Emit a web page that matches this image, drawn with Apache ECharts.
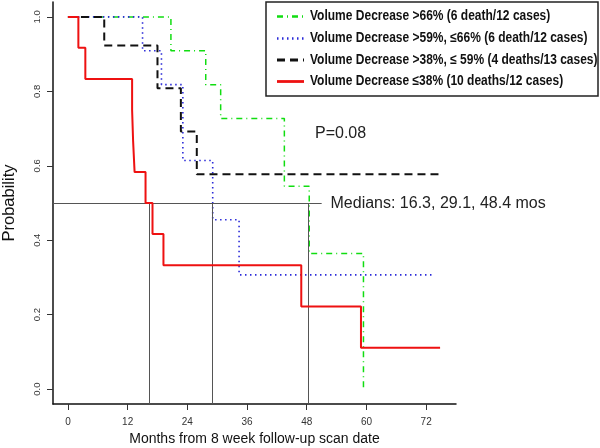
<!DOCTYPE html>
<html><head><meta charset="utf-8">
<script src="https://cdn.jsdelivr.net/npm/echarts@6/dist/echarts.min.js"></script>
<style>html,body{margin:0;padding:0;background:#fff}#c{width:600px;height:448px}</style>
</head><body><div id="c"></div>
<script>
// Kaplan-Meier step data (months, survival probability)
var greenT = [0, 20.7, 27.7, 30.7, 43.5, 48.5, 59.4];
var greenS = [1, 0.909, 0.818, 0.727, 0.545, 0.364, 0];
var blueT  = [0, 15.0, 18.8, 23.1, 29.1, 34.4, 73.5];
var blueS  = [1, 0.909, 0.818, 0.614, 0.455, 0.307, 0.307];
var blackT = [0, 7.3, 18.0, 22.7, 25.9, 74.8];
var blackS = [1, 0.923, 0.808, 0.692, 0.577, 0.577];
var redT   = [0, 2.1, 3.5, 12.9, 13.1, 13.4, 15.6, 17.0, 19.2, 46.9, 58.9, 74.8];
var redS   = [1, 0.917, 0.833, 0.75, 0.667, 0.583, 0.5, 0.417, 0.333, 0.222, 0.111, 0.111];
var medians = [16.3, 29.1, 48.4];
var medianLevel = 0.5;
var medianLineEnd = 51;
var xTicks = [0, 12, 24, 36, 48, 60, 72];
var yTicks = [0, 0.2, 0.4, 0.6, 0.8, 1.0];
var legendNames = [
  'Volume Decrease >66% (6 death/12 cases)',
  'Volume Decrease >59%, \u226466% (6 death/12 cases)',
  'Volume Decrease >38%, \u2264 59% (4 deaths/13 cases)',
  'Volume Decrease \u226438% (10 deaths/12 cases)'
];
var pText = 'P=0.08';
var medText = 'Medians: 16.3, 29.1, 48.4 mos';

function pairs(t, s) { return t.map(function (v, i) { return [v, s[i]]; }); }

var styles = [
  {color: '#11dd11', width: 1.5, type: [6, 4, 1, 4]},
  {color: '#2a2ad8', width: 1.6, type: [1.5, 3.5]},
  {color: '#111111', width: 2, type: [8, 5]},
  {color: '#ee1111', width: 2, type: 'solid'}
];
var dataSets = [pairs(greenT, greenS), pairs(blueT, blueS), pairs(blackT, blackS), pairs(redT, redS)];

var font = "'Liberation Sans', Arial, sans-serif";
var series = [];
var medData = [[{coord: [-3, medianLevel]}, {coord: [medianLineEnd, medianLevel]}]];
medians.forEach(function (m) { medData.push([{coord: [m, medianLevel]}, {coord: [m, -0.04]}]); });
series.push({
  type: 'line', data: [], silent: true,
  markLine: {silent: true, symbol: ['none', 'none'], label: {show: false}, animation: false,
    lineStyle: {color: '#555', width: 1, type: 'solid'}, data: medData}
});
dataSets.forEach(function (d, i) {
  series.push({
    type: 'line', name: legendNames[i], data: d, step: 'end', showSymbol: false,
    symbol: 'none', animation: false, z: 3 + i,
    lineStyle: {color: styles[i].color, width: styles[i].width, type: styles[i].type}
  });
});

var graphics = [];
graphics.push({type: 'rect', shape: {x: 266, y: 2, width: 332, height: 94},
  style: {fill: '#fff', stroke: '#222', lineWidth: 1.5}, z: 10});
var rowY = [16.5, 38.5, 60, 81.5];
legendNames.forEach(function (n, i) {
  graphics.push({type: 'line', shape: {x1: 277, y1: rowY[i], x2: 304, y2: rowY[i]},
    style: {stroke: styles[i].color, lineWidth: styles[i].width + 0.8, lineDash: styles[i].type === 'solid' ? null : styles[i].type}, z: 11});
  graphics.push({type: 'text', x: 310, y: rowY[i], scaleY: 1.18, z: 11,
    style: {x: 0, y: 0, text: n, font: 'bold 12px ' + font, fill: '#111', verticalAlign: 'middle', align: 'left'}});
});
graphics.push({type: 'text', x: 315, y: 134, z: 11,
  style: {text: pText, font: '16px ' + font, fill: '#222', verticalAlign: 'middle'}});
graphics.push({type: 'text', x: 330.5, y: 203.5, z: 11,
  style: {text: medText, font: '16px ' + font, fill: '#222', verticalAlign: 'middle'}});

var chart = echarts.init(document.getElementById('c'), null, {renderer: 'canvas'});
chart.setOption({
  animation: false,
  backgroundColor: '#fff',
  grid: {left: 53, right: 144, top: 2, bottom: 44, containLabel: false, outerBoundsMode: 'none'},
  xAxis: {
    type: 'value', min: -3, max: 78,
    name: 'Months from 8 week follow-up scan date', nameLocation: 'middle', nameGap: 28,
    nameTextStyle: {fontSize: 14, color: '#111', fontFamily: font},
    axisLine: {show: true, onZero: false, lineStyle: {color: '#111', width: 1.5}},
    axisTick: {show: true, length: 6, customValues: xTicks, lineStyle: {color: '#333'}},
    axisLabel: {customValues: xTicks, fontSize: 10, color: '#333', margin: 13, fontFamily: font},
    splitLine: {show: false}
  },
  yAxis: {
    type: 'value', min: -0.04, max: 1.04,
    name: 'Probability', nameLocation: 'middle', nameGap: 35,
    nameTextStyle: {fontSize: 16.5, color: '#111', fontFamily: font},
    axisLine: {show: true, onZero: false, lineStyle: {color: '#111', width: 1.5}},
    axisTick: {show: true, length: 6, customValues: yTicks, lineStyle: {color: '#333'}},
    axisLabel: {customValues: yTicks, rotate: 90, fontSize: 9.5, color: '#333', margin: 11, fontFamily: font,
      formatter: function (v) { return v.toFixed(1); }},
    splitLine: {show: false}
  },
  series: series,
  graphic: graphics
});
</script></body></html>
